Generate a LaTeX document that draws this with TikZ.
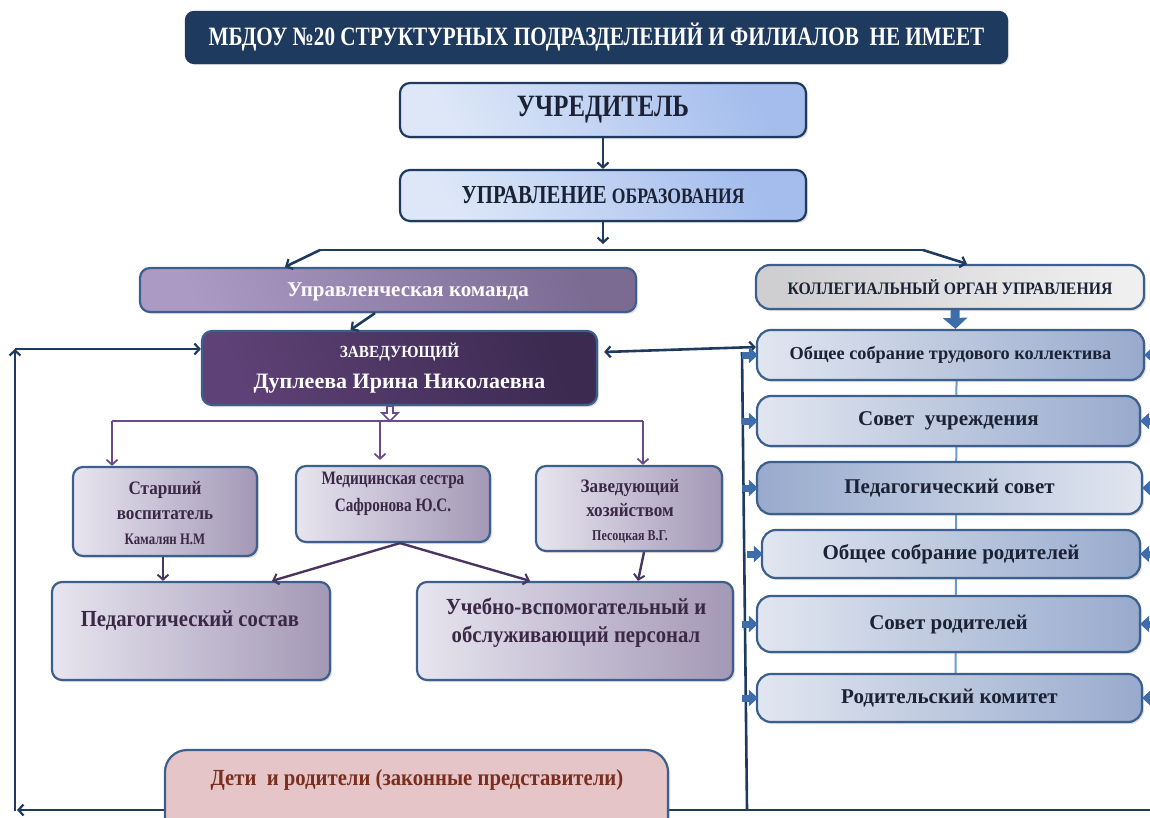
\documentclass[tikz,border=0pt]{standalone}
\usepackage{fontspec}
\setmainfont{Liberation Serif}
\newfontfamily\condA[FakeStretch=0.8]{Liberation Serif}
\newfontfamily\condB[FakeStretch=0.9]{Liberation Serif}
\usetikzlibrary{arrows.meta,shadows}
\pgfdeclarelayer{background}
\pgfsetlayers{background,main}
\definecolor{navy}{HTML}{1E3A5F}
\definecolor{bordc}{HTML}{3C5F8C}
\definecolor{uchrA}{HTML}{DDE7F8}
\definecolor{uchrB}{HTML}{A4BDED}
\definecolor{teamA}{HTML}{AB9BC4}
\definecolor{teamB}{HTML}{7B6B93}
\definecolor{zavA}{HTML}{5E4176}
\definecolor{zavB}{HTML}{3C2A50}
\definecolor{lboxA}{HTML}{E7E5EF}
\definecolor{lboxB}{HTML}{A398B6}
\definecolor{rboxA}{HTML}{E1E6F0}
\definecolor{rboxB}{HTML}{98AACD}
\definecolor{purp}{HTML}{6A4C8C}
\definecolor{dpurp}{HTML}{4A3462}
\definecolor{kollA}{HTML}{CFCFD2}
\definecolor{kollB}{HTML}{EFEFEF}
\definecolor{detiF}{HTML}{E6C5C9}
\definecolor{detiT}{HTML}{7A2E1E}
\definecolor{blk}{HTML}{3D6DAA}
\definecolor{thinb}{HTML}{6F9BD1}
\definecolor{ltext}{HTML}{3A2846}
\definecolor{rtext}{HTML}{1B2235}
\tikzset{
  shd/.style={drop shadow={shadow xshift=2pt, shadow yshift=-2pt, opacity=0.25, fill=gray}},
  box/.style={shd, draw=bordc, line width=2.2pt, rounded corners=10pt, align=center, inner sep=0pt, font=\bfseries},
  lbox/.style={box, left color=lboxA, right color=lboxB, text=ltext},
  rbox/.style={box, rounded corners=14pt, left color=rboxA, right color=rboxB, text=rtext},
  txt/.style={align=center, inner sep=0pt},
  navyarr/.style={draw=navy, line width=2.6pt, -{Straight Barb[length=5pt,width=11pt,line width=2.2pt]}},
  navyln/.style={draw=navy, line width=2.6pt},
  purparr/.style={draw=purp, line width=2pt, -{Straight Barb[length=5pt,width=11pt,line width=1.8pt]}},
  dpurparr/.style={draw=dpurp, line width=2.4pt, -{Straight Barb[length=5pt,width=11pt,line width=2pt]}},
  smallblk/.style={draw=blk, line width=7pt, -{Triangle[length=9pt,width=16pt]}},
  fatarr/.style={draw=blk, line width=9pt, -{Triangle[length=11pt,width=24pt]}},
}
\begin{document}
\begin{tikzpicture}[x=1pt,y=-1pt]
\useasboundingbox (0,0) rectangle (1150,817);
\clip (0,0) rectangle (1150,817);
% title
\node[box, fill=navy, draw=navy, rounded corners=8pt, text=white, minimum width=821pt, minimum height=51pt,
  font=\bfseries\condA\fontsize{26.5}{28}\selectfont] (title) at (596.5,37.5)
  {МБДОУ №20 СТРУКТУРНЫХ ПОДРАЗДЕЛЕНИЙ И ФИЛИАЛОВ\ \ НЕ ИМЕЕТ};
% founder
\node[box, draw=navy, left color=uchrA, right color=uchrB, shading angle=120, text=rtext, minimum width=406pt, minimum height=54pt,
  font=\bfseries\condA\fontsize{31}{33}\selectfont] (uchr) at (603,110)
  {УЧРЕДИТЕЛЬ};
\node[box, draw=navy, left color=uchrA, right color=uchrB, shading angle=120, text=rtext, minimum width=406pt, minimum height=51pt,
  font=\bfseries\condA\fontsize{26}{28}\selectfont] (upr) at (603,195.5)
  {УПРАВЛЕНИЕ {\fontsize{22}{24}\selectfont ОБРАЗОВАНИЯ}};
% management team
\node[box, left color=teamA, right color=teamB, shading angle=110, minimum width=496pt, minimum height=44pt] (team) at (388,290) {};
\node[txt, text=white, font=\bfseries\fontsize{21}{24}\selectfont] (teamt) at (408,292) {Управленческая команда};
\node[box, left color=zavA, right color=zavB, shading angle=110, text=white, minimum width=395pt, minimum height=74pt,
  font=\bfseries\fontsize{22}{26}\selectfont] (zav) at (399.5,368)
  {\condB\fontsize{17}{20}\selectfont ЗАВЕДУЮЩИЙ\\[5pt] Дуплеева Ирина Николаевна};
% collegial
\node[box, left color=kollA, right color=kollB, shading angle=100, text=rtext, rounded corners=14pt, minimum width=388pt, minimum height=44pt,
  font=\bfseries\condB\fontsize{17.5}{20}\selectfont] (koll) at (950,287)
  {КОЛЛЕГИАЛЬНЫЙ ОРГАН УПРАВЛЕНИЯ};
\node[rbox, minimum width=387pt, minimum height=50pt, font=\bfseries\fontsize{18.3}{20}\selectfont] (r1) at (950.5,355)
  {Общее собрание трудового коллектива};
\node[rbox, minimum width=383pt, minimum height=50pt, font=\bfseries\fontsize{21}{24}\selectfont] (r2) at (948.5,421)
  {Совет\ \ учреждения};
\node[rbox, left color=rboxB, right color=rboxA, minimum width=385pt, minimum height=52pt, font=\bfseries\fontsize{21}{24}\selectfont] (r3) at (949.5,488)
  {Педагогический совет};
\node[rbox, minimum width=378pt, minimum height=48pt, font=\bfseries\fontsize{21}{24}\selectfont] (r4) at (951,554)
  {Общее собрание родителей};
\node[rbox, minimum width=383pt, minimum height=56pt, font=\bfseries\fontsize{21}{24}\selectfont] (r5) at (948.5,624)
  {Совет родителей};
\node[rbox, minimum width=385pt, minimum height=48pt, font=\bfseries\fontsize{21}{24}\selectfont] (r6) at (949.5,698)
  {Родительский комитет};
% staff
\node[lbox, minimum width=184pt, minimum height=89pt] (star) at (165,511.5) {};
\node[txt, text=ltext, font=\bfseries\condB\fontsize{19}{25}\selectfont] (start) at (165,513)
  {Старший\\ воспитатель\\ \condA\fontsize{16}{25}\selectfont Камалян Н.М};
\node[lbox, minimum width=194pt, minimum height=76pt] (med) at (393,504) {};
\node[txt, text=ltext, font=\bfseries\condA\fontsize{19}{27}\selectfont] (medt) at (393,494)
  {Медицинская сестра\\ Сафронова Ю.С.};
\node[lbox, minimum width=186pt, minimum height=85pt] (zavx) at (629,508.5) {};
\node[txt, text=ltext, font=\bfseries\condB\fontsize{19}{24}\selectfont] (zavxt) at (630,511)
  {Заведующий\\ хозяйством\\ \condA\fontsize{15}{24}\selectfont Песоцкая В.Г.};
\node[lbox, minimum width=278pt, minimum height=98pt] (ped) at (191,631) {};
\node[txt, text=ltext, font=\bfseries\condB\fontsize{23}{26}\selectfont] (pedt) at (190,621) {Педагогический состав};
\node[lbox, minimum width=316pt, minimum height=98pt] (ucheb) at (575,631) {};
\node[txt, text=ltext, font=\bfseries\condB\fontsize{23}{28}\selectfont] (ucht) at (576,623)
  {Учебно-вспомогательный и\\ обслуживающий персонал};
% bottom line (behind children box)
\coordinate (br) at (1152,810);
\coordinate (bl) at (17,810);
\coordinate (tl) at (15,349);
\coordinate (vt) at (742,352);
\coordinate (vb) at (747,810);
\draw[navyln] (vt) -- (vb);
\draw[navyarr] (br) -- (bl);
\draw[navyarr] (15,811) -- (tl);
\draw[navyarr] (tl) -- (tl -| zav.west);
\node[box, fill=detiF, rounded corners=22pt, minimum width=503pt, minimum height=100pt] (deti) at (416.5,800) {};
\node[txt, text=detiT, font=\bfseries\condB\fontsize{23}{26}\selectfont] (detit) at (417,780) {Дети\ \ и родители (законные представители)};
% top connectors
\draw[navyarr] (uchr.south) -- (upr.north);
\coordinate (udown) at (603,244);
\draw[navyarr] (upr.south) -- (udown);
\coordinate (bL) at (320,250);
\coordinate (bR) at (923,250);
\draw[navyln] (bL) -- (bR);
\draw[navyarr] (bL) -- ([xshift=-103pt]team.north);
\draw[navyarr] (bR) -- ([xshift=17pt]koll.north);
\draw[navyarr] ([xshift=-13pt]team.south) -- ([xshift=-49pt]zav.north);
\draw[navyarr, {Straight Barb[length=5pt,width=11pt,line width=2.2pt]}-{Straight Barb[length=5pt,width=11pt,line width=2.2pt]}] ([xshift=6pt,yshift=16pt]zav.east) -- ([yshift=8pt]r1.west);
\draw[fatarr] ([xshift=5pt]koll.south) -- ([xshift=5pt]r1.north);
% hollow arrow below director
\draw[draw=purp, line width=1.6pt, fill=white] (387,406) -- ++(6,0) -- ++(0,7) -- ++(5,0) -- ++(-8,8) -- ++(-8,-8) -- ++(5,0) -- cycle;
\coordinate (pL) at (112,421);
\coordinate (pR) at (643,421);
\draw[draw=purp, line width=2pt] (pL) -- (pR);
\draw[purparr] (pL) -- ([xshift=-53pt]star.north);
\draw[purparr] (380,421) -- ([xshift=-13pt,yshift=5pt]med.north);
\draw[purparr] (pR) -- ([xshift=14pt]zavx.north);
\draw[dpurparr] ([xshift=-2pt]star.south) -- ([xshift=-28pt]ped.north);
\draw[dpurparr] ([xshift=7pt]med.south) -- ([xshift=81pt]ped.north);
\draw[dpurparr] ([xshift=7pt]med.south) -- ([xshift=-45pt]ucheb.north);
\draw[dpurparr] ([xshift=15pt]zavx.south) -- ([xshift=63pt]ucheb.north);
% right side block arrows
\foreach \b in {r1,r2,r3,r4,r5,r6}{
  \draw[smallblk] ([xshift=-14pt]\b.west) -- ([xshift=2pt]\b.west);
  \draw[smallblk] ([xshift=16pt]\b.east) -- ([xshift=-1pt]\b.east);
}
\begin{pgfonlayer}{background}
\draw[draw=thinb, line width=2pt] ([xshift=6pt]r1.south) -- ([xshift=6pt]r6.north);
\end{pgfonlayer}
\end{tikzpicture}
\end{document}
